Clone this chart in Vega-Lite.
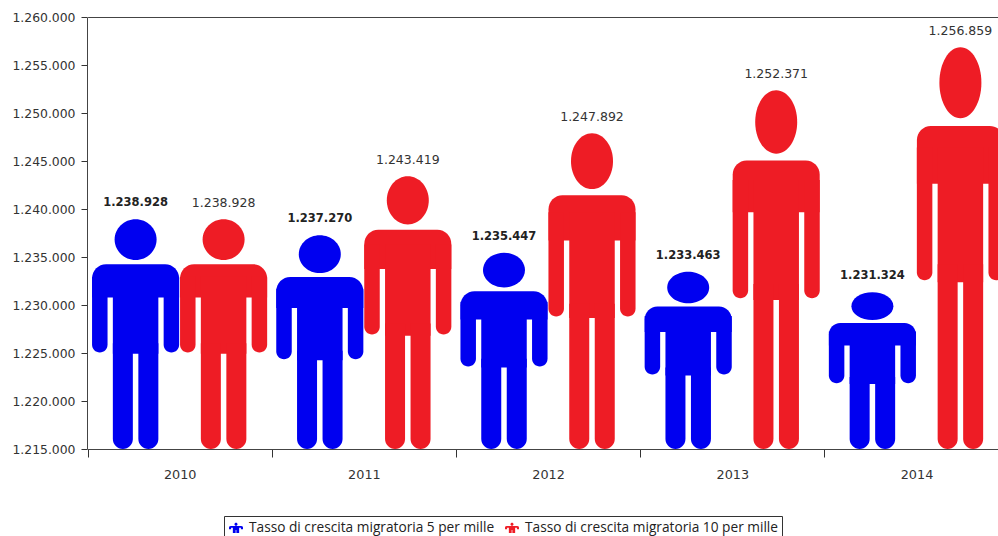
{
"$schema":"https://vega.github.io/schema/vega-lite/v6.json",
"width":911,"height":432,
"autosize":"none",
"padding":{"left":87,"top":17,"right":0,"bottom":87},
"background":"white",
"config":{"locale":{"number":{"decimal":",","thousands":".","grouping":[3],"currency":["","€"]}},"view":{"stroke":null},"font":"DejaVu Sans"},
"data":{"values":[
{"year":"2010","serie":"Tasso di crescita migratoria 5 per mille","value":1238928},
{"year":"2010","serie":"Tasso di crescita migratoria 10 per mille","value":1238928},
{"year":"2011","serie":"Tasso di crescita migratoria 5 per mille","value":1237270},
{"year":"2011","serie":"Tasso di crescita migratoria 10 per mille","value":1243419},
{"year":"2012","serie":"Tasso di crescita migratoria 5 per mille","value":1235447},
{"year":"2012","serie":"Tasso di crescita migratoria 10 per mille","value":1247892},
{"year":"2013","serie":"Tasso di crescita migratoria 5 per mille","value":1233463},
{"year":"2013","serie":"Tasso di crescita migratoria 10 per mille","value":1252371},
{"year":"2014","serie":"Tasso di crescita migratoria 5 per mille","value":1231324},
{"year":"2014","serie":"Tasso di crescita migratoria 10 per mille","value":1256859}
]},
"transform":[
{"calculate":"datum.value-1215000","as":"h"},
{"calculate":"1215000+datum.h*0.9115","as":"headC"},
{"calculate":"1215000+datum.h*0.804","as":"shTop"},
{"calculate":"1215000+datum.h*0.66","as":"gapTop"},
{"calculate":"1215000+datum.h*0.75","as":"armTop"},
{"calculate":"1215000+datum.h*0.42","as":"armBot"},
{"calculate":"1215000+datum.h*0.415","as":"crotch"},
{"calculate":"1215000+datum.h*0.46","as":"legTop"},
{"calculate":"1215000","as":"base"},
{"calculate":"datum.year+'-'+(indexof(datum.serie,' 5 ')>0?'b':'r')","as":"key"}
],
"resolve":{"scale":{"xOffset":"independent"}},
"encoding":{
"x":{"field":"year","type":"nominal","scale":{"range":[0.6,921.6],"paddingInner":0,"paddingOuter":0},
 "axis":{"title":null,"labelAngle":0,"tickBand":"extent","tickSize":8,"tickColor":"#333","domainColor":"#444","labelFontSize":12.8,"labelColor":"#333","labelPadding":17,"labelBaseline":"middle"}},
"color":{"field":"serie","type":"nominal","sort":["Tasso di crescita migratoria 5 per mille","Tasso di crescita migratoria 10 per mille"],
 "scale":{"domain":["Tasso di crescita migratoria 5 per mille","Tasso di crescita migratoria 10 per mille"],"range":["#0000f0","#ee1c25"]},
 "legend":{"title":null,"orient":"none","legendX":137,"legendY":499,"direction":"horizontal","columns":2,"strokeColor":"#333","padding":4,"labelFont":"Open Sans","labelFontSize":13.7,"labelColor":"#222","labelLimit":400,"columnPadding":9,"symbolSize":196,"symbolOffset":0,"labelOffset":5,
 "symbolType":"M-0.22,-0.55A0.22,0.22 0 1 1 0.22,-0.55A0.22,0.22 0 1 1 -0.22,-0.55ZM-1,-0.1Q-1,-0.3 -0.7,-0.3L0.7,-0.3Q1,-0.3 1,-0.1L1,0.15L0.7,0.15L0.7,-0.05L0.45,-0.05L0.45,0.7L0.05,0.7L0.05,0.25L-0.05,0.25L-0.05,0.7L-0.45,0.7L-0.45,-0.05L-0.7,-0.05L-0.7,0.15L-1,0.15Z"}}
},
"layer":[
{"mark":{"type":"bar","width":87,"cornerRadiusTopLeft":14,"cornerRadiusTopRight":14},
 "encoding":{
 "xOffset":{"field":"serie","type":"nominal","sort":["Tasso di crescita migratoria 5 per mille","Tasso di crescita migratoria 10 per mille"],"scale":{"range":[4,180]}},
 "y":{"field":"shTop","type":"quantitative","scale":{"domain":[1215000,1260000],"nice":false},
 "axis":{"title":null,"values":[1215000,1220000,1225000,1230000,1235000,1240000,1245000,1250000,1255000,1260000],"format":",d","tickSize":6,"tickColor":"#333","domainColor":"#444","labelFontSize":12.4,"labelColor":"#333","labelPadding":6,
 "grid":true,"gridColor":{"condition":{"test":"datum.value==1260000","value":"#444"},"value":"transparent"}}},"y2":{"field":"gapTop"}}},
{"mark":{"type":"bar","width":15.5,"cornerRadiusBottomLeft":7.7,"cornerRadiusBottomRight":7.7},
 "encoding":{
 "xOffset":{"field":"serie","type":"nominal","sort":["Tasso di crescita migratoria 5 per mille","Tasso di crescita migratoria 10 per mille"],"scale":{"range":[-31.8,144.2]}},
 "y":{"field":"armTop","type":"quantitative"},"y2":{"field":"armBot"}}},
{"mark":{"type":"bar","width":15.5,"cornerRadiusBottomLeft":7.7,"cornerRadiusBottomRight":7.7},
 "encoding":{
 "xOffset":{"field":"serie","type":"nominal","sort":["Tasso di crescita migratoria 5 per mille","Tasso di crescita migratoria 10 per mille"],"scale":{"range":[39.8,215.8]}},
 "y":{"field":"armTop","type":"quantitative"},"y2":{"field":"armBot"}}},
{"mark":{"type":"bar","width":45.5},
 "encoding":{
 "xOffset":{"field":"serie","type":"nominal","sort":["Tasso di crescita migratoria 5 per mille","Tasso di crescita migratoria 10 per mille"],"scale":{"range":[4,180]}},
 "y":{"field":"armTop","type":"quantitative"},"y2":{"field":"crotch"}}},
{"mark":{"type":"bar","width":20,"cornerRadiusBottomLeft":10,"cornerRadiusBottomRight":10},
 "encoding":{
 "xOffset":{"field":"serie","type":"nominal","sort":["Tasso di crescita migratoria 5 per mille","Tasso di crescita migratoria 10 per mille"],"scale":{"range":[-8.75,167.25]}},
 "y":{"field":"legTop","type":"quantitative"},"y2":{"field":"base"}}},
{"mark":{"type":"bar","width":20,"cornerRadiusBottomLeft":10,"cornerRadiusBottomRight":10},
 "encoding":{
 "xOffset":{"field":"serie","type":"nominal","sort":["Tasso di crescita migratoria 5 per mille","Tasso di crescita migratoria 10 per mille"],"scale":{"range":[16.75,192.75]}},
 "y":{"field":"legTop","type":"quantitative"},"y2":{"field":"base"}}},
{"mark":{"type":"point","filled":true,"opacity":1,"size":1764},
 "encoding":{
 "xOffset":{"field":"serie","type":"nominal","sort":["Tasso di crescita migratoria 5 per mille","Tasso di crescita migratoria 10 per mille"],"scale":{"range":[4,180]}},
 "y":{"field":"headC","type":"quantitative"},
 "shape":{"field":"key","type":"nominal","legend":null,"scale":{
  "domain":["2010-b","2011-b","2012-b","2013-b","2014-b","2010-r","2011-r","2012-r","2013-r","2014-r"],
  "range":[
  "M-1,0A1,0.97 0 1 1 1,0A1,0.97 0 1 1 -1,0Z",
  "M-1,0A1,0.90 0 1 1 1,0A1,0.90 0 1 1 -1,0Z",
  "M-1,0A1,0.83 0 1 1 1,0A1,0.83 0 1 1 -1,0Z",
  "M-1,0A1,0.75 0 1 1 1,0A1,0.75 0 1 1 -1,0Z",
  "M-1,0A1,0.66 0 1 1 1,0A1,0.66 0 1 1 -1,0Z",
  "M-1,0A1,0.97 0 1 1 1,0A1,0.97 0 1 1 -1,0Z",
  "M-1,0A1,1.15 0 1 1 1,0A1,1.15 0 1 1 -1,0Z",
  "M-1,0A1,1.33 0 1 1 1,0A1,1.33 0 1 1 -1,0Z",
  "M-1,0A1,1.51 0 1 1 1,0A1,1.51 0 1 1 -1,0Z",
  "M-1,0A1,1.69 0 1 1 1,0A1,1.69 0 1 1 -1,0Z"]}}}},
{"transform":[{"filter":"indexof(datum.serie,' 5 ')>0"}],
 "mark":{"type":"text","dy":-16,"baseline":"middle","fontWeight":"bold","fontSize":11.5},
 "encoding":{
 "xOffset":{"field":"serie","type":"nominal","sort":["Tasso di crescita migratoria 5 per mille","Tasso di crescita migratoria 10 per mille"],"scale":{"domain":["Tasso di crescita migratoria 5 per mille","Tasso di crescita migratoria 10 per mille"],"range":[4,180]}},
 "y":{"field":"value","type":"quantitative"},
 "text":{"field":"value","type":"quantitative","format":",d"},
 "color":{"value":"#222"}}},
{"transform":[{"filter":"indexof(datum.serie,' 5 ')<0"}],
 "mark":{"type":"text","dy":-16,"baseline":"middle","fontSize":12.5},
 "encoding":{
 "xOffset":{"field":"serie","type":"nominal","sort":["Tasso di crescita migratoria 5 per mille","Tasso di crescita migratoria 10 per mille"],"scale":{"domain":["Tasso di crescita migratoria 5 per mille","Tasso di crescita migratoria 10 per mille"],"range":[4,180]}},
 "y":{"field":"value","type":"quantitative"},
 "text":{"field":"value","type":"quantitative","format":",d"},
 "color":{"value":"#333"}}}
]
}
